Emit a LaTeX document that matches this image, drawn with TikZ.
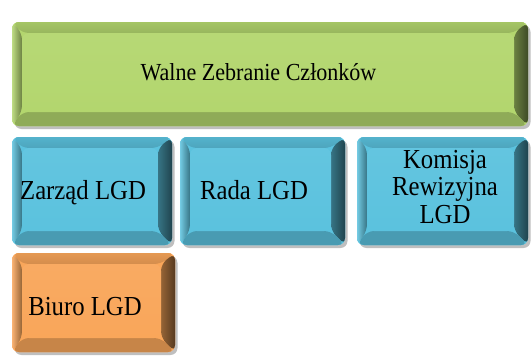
\documentclass[tikz,border=0pt]{standalone}
\usepackage{fontspec}
\setmainfont{Liberation Serif}
\newfontfamily\boxfont[FakeStretch=0.9]{Liberation Serif}
\usetikzlibrary{shadows}
\definecolor{grn}{HTML}{B3D66E}
\definecolor{blu}{HTML}{5BC2DE}
\definecolor{org}{HTML}{F9A65A}
\newcommand\bevelpaint[1]{%
  \path (path picture bounding box.south west) coordinate (bsw)
        (path picture bounding box.north east) coordinate (bne);
  \path ([shift={(10pt,14pt)}]bsw) coordinate (isw)
        ([shift={(-14pt,-11pt)}]bne) coordinate (ine);
  \fill[#1] (bsw) rectangle (bne);
  % top bevel
  \shade[top color=#1!92!black, middle color=#1!35!white, bottom color=#1!85!black]
    (bsw|-bne) -- (bne) -- (ine) -- (isw|-ine) -- cycle;
  % left bevel
  \shade[left color=#1!85!white, right color=#1!60!black]
    (bsw) -- (bsw|-bne) -- (isw|-ine) -- (isw) -- cycle;
  % right bevel
  \shade[left color=#1!60!black, right color=#1!35!black]
    (bne|-bsw) -- (bne) -- (ine) -- (ine|-isw) -- cycle;
  % bottom bevel
  \shade[top color=#1!80!black, middle color=#1!40!white, bottom color=#1!80!black]
    (bsw) -- (bne|-bsw) -- (ine|-isw) -- (isw) -- cycle;
  % face
  \shade[top color=#1!95!white, bottom color=#1] (isw) rectangle (ine);
}
\tikzset{
  bevbox/.style={rounded corners=7pt, fill=#1, inner sep=0pt,
    drop shadow={shadow xshift=2.5pt, shadow yshift=-3pt, opacity=0.25, fill=black},
    path picture={\bevelpaint{#1}}},
  lbl/.style={font=\boxfont\fontsize{27.5}{27.5}\selectfont, text=black, inner sep=0pt, align=center},
  toplbl/.style={font=\boxfont\fontsize{24.5}{27}\selectfont, text=black, inner sep=0pt}
}
\begin{document}
\begin{tikzpicture}[x=1pt,y=-1pt]
\useasboundingbox (0,0) rectangle (531,356);
\node[bevbox=grn, minimum width=516pt, minimum height=104pt] (walne) at (270,74) {};
\node[bevbox=blu, minimum width=160pt, minimum height=108pt] (zarzad) at (92,191) {};
\node[bevbox=blu, minimum width=165pt, minimum height=108pt] (rada) at (262.5,191) {};
\node[bevbox=blu, minimum width=171pt, minimum height=108pt] (komisja) at (442.5,191) {};
\node[bevbox=org, minimum width=163pt, minimum height=99pt] (biuro) at (93.5,302.5) {};
\node[toplbl, anchor=base] (twalne) at (258.5,80) {Walne Zebranie Członków};
\node[lbl, anchor=base] (tzarzad) at (83,199) {Zarząd LGD};
\node[lbl, anchor=base] (trada) at (254,199) {Rada LGD};
\node[lbl] (tkomisja) at (445,187) {Komisja\\Rewizyjna\\LGD};
\node[lbl, anchor=base] (tbiuro) at (85,315) {Biuro LGD};
\end{tikzpicture}
\end{document}
